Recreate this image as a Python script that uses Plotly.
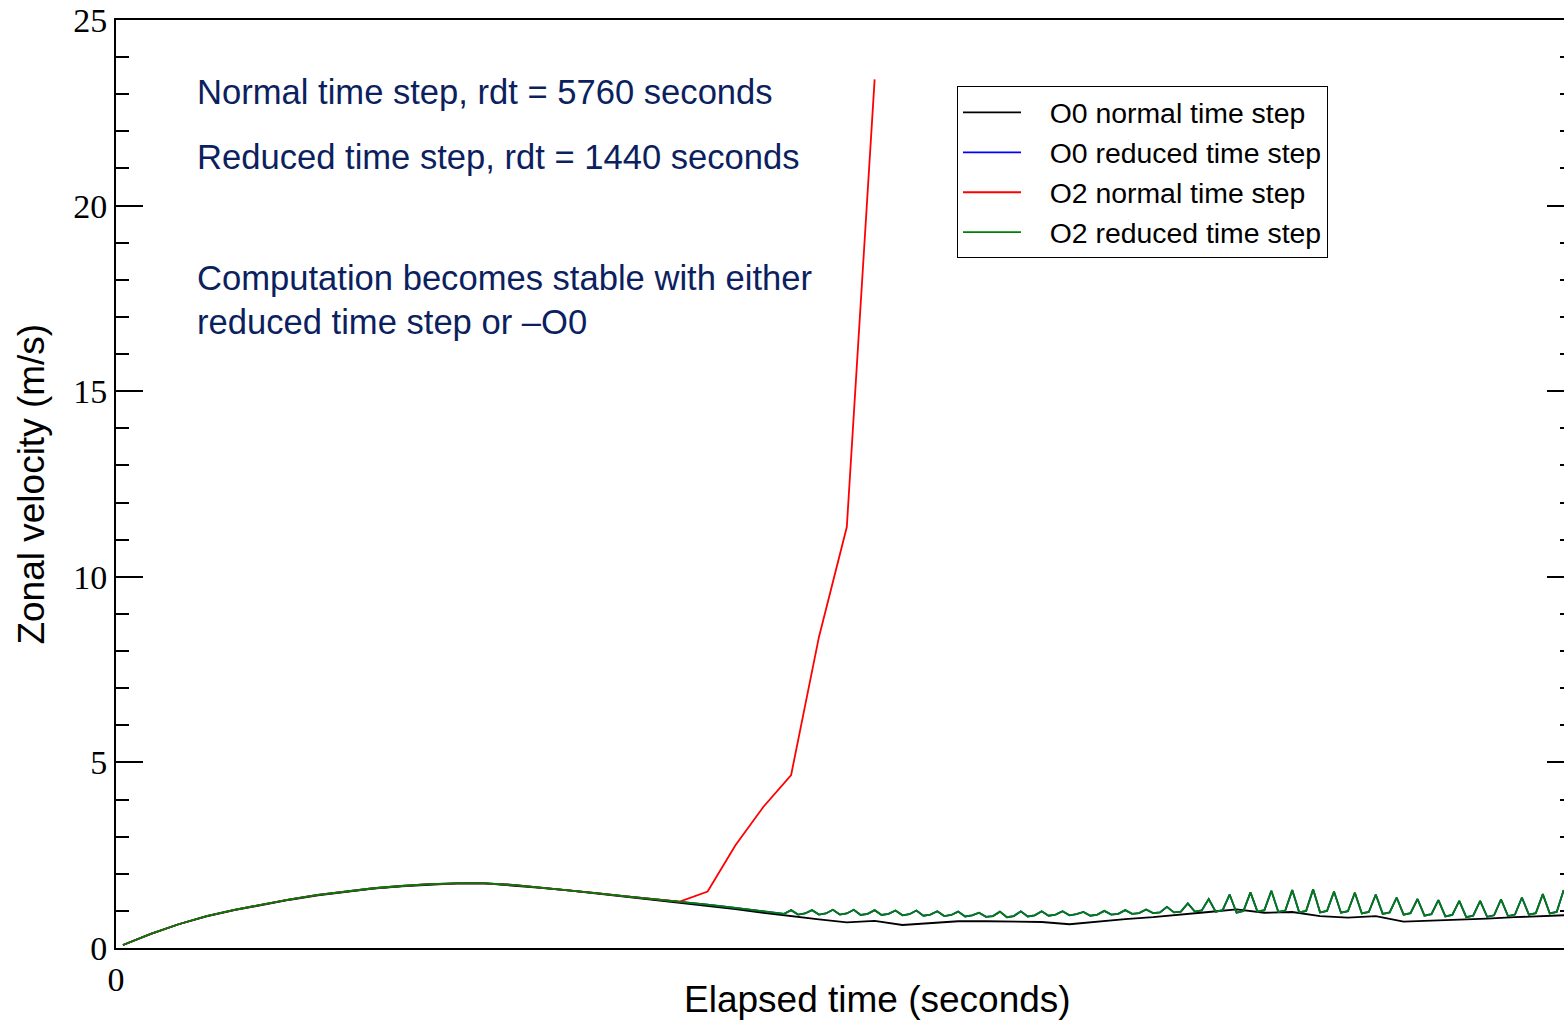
import plotly.graph_objects as go

# Time steps (seconds)
NORMAL_DT = 5760
REDUCED_DT = 1440

# Output step indices (counted in reduced time steps of 1440 s)
normal_steps = list(range(0, 209, 4))            # every 4th reduced step = one normal step
o2_normal_steps = list(range(0, 109, 4))
reduced_steps = list(range(0, 93, 4)) + list(range(93, 208))

# O0, normal time step
o0_normal = [0.08, 0.38, 0.64, 0.85, 1.02, 1.17, 1.30, 1.42, 1.52, 1.60,
             1.66, 1.71, 1.74, 1.74, 1.69, 1.62, 1.55, 1.47, 1.39, 1.31,
             1.22, 1.14, 1.05, 0.95, 0.85, 0.77, 0.69, 0.73, 0.62, 0.68,
             0.72, 0.72, 0.70, 0.70, 0.64, 0.72, 0.78, 0.83, 0.89, 0.97,
             1.04, 0.95, 0.97, 0.86, 0.82, 0.86, 0.71, 0.73, 0.76, 0.79,
             0.83, 0.86, 0.89]

# O2, normal time step (unstable)
o2_normal = [0.08, 0.38, 0.64, 0.86, 1.03, 1.18, 1.31, 1.43, 1.53, 1.61,
             1.67, 1.72, 1.74, 1.74, 1.70, 1.63, 1.56, 1.48, 1.40, 1.33,
             1.25, 1.52, 2.77, 3.80, 4.66, 8.38, 11.34, 23.40]

# O2, reduced time step
o2_reduced = [0.08, 0.38, 0.64, 0.86, 1.03, 1.18, 1.31, 1.43, 1.53, 1.61,
              1.67, 1.72, 1.74, 1.74, 1.70, 1.63, 1.56, 1.48, 1.40, 1.33,
              1.25, 1.17, 1.08, 0.99,
              0.97, 0.94, 0.92,
              1.02, 0.90, 0.93, 1.02, 0.90, 0.93, 1.03, 0.90, 0.93,
              1.03, 0.89, 0.92, 1.02, 0.89, 0.92, 1.01, 0.88, 0.91,
              1.01, 0.87, 0.90, 0.99, 0.86, 0.89, 0.98, 0.85, 0.88,
              0.95, 0.84, 0.86, 0.98, 0.83, 0.86, 0.99, 0.85, 0.88,
              0.99, 0.87, 0.90, 0.99, 0.88, 0.91, 0.97, 0.87, 0.90,
              1.00, 0.90, 0.92, 1.02, 0.92, 0.94, 1.04, 0.94, 0.96,
              1.11, 0.96, 0.98, 1.20, 0.98, 1.01, 1.32, 0.98, 1.02,
              1.44, 0.95, 1.00, 1.50, 0.98, 1.02, 1.54, 0.97, 1.01,
              1.56, 0.96, 1.00, 1.58, 0.96, 1.00, 1.52, 0.95, 0.99,
              1.49, 0.93, 0.97, 1.44, 0.92, 0.96, 1.36, 0.90, 0.94,
              1.32, 0.87, 0.91, 1.29, 0.85, 0.89, 1.27, 0.83, 0.87,
              1.27, 0.84, 0.88, 1.31, 0.86, 0.90, 1.36, 0.90, 0.94,
              1.45, 0.93, 0.97, 1.56]

# O0, reduced time step (lies on top of the O2 reduced run)
o0_reduced = list(o2_reduced)

series_names = ["O0 normal time step", "O0 reduced time step",
                "O2 normal time step", "O2 reduced time step"]
series_colors = ["#000000", "#0000ff", "#ff0000", "#008000"]

y_ticks = [0, 5, 10, 15, 20, 25]
x_ticks = [0]
x_max = 299586
y_max = 25

notes = ["Normal time step, rdt = 5760 seconds",
         "Reduced time step, rdt = 1440 seconds",
         "Computation becomes stable with either",
         "reduced time step or \u2013O0"]
note_levels = [23.05, 21.32, 18.04, 16.86]

# gap between the legend line sample and its label
LEGEND_PAD = "\u00a0" * 3


def to_seconds(steps):
    return [REDUCED_DT * (s + 1) for s in steps]


fig = go.Figure()
runs = [(normal_steps, o0_normal), (reduced_steps, o0_reduced),
        (o2_normal_steps, o2_normal), (reduced_steps, o2_reduced)]
for (steps, vals), name, color in zip(runs, series_names, series_colors):
    fig.add_trace(go.Scatter(x=to_seconds(steps), y=vals, mode="lines",
                             name=LEGEND_PAD + name,
                             line=dict(color=color, width=1.8)))

# empty trace that carries the right-hand tick axis
fig.add_trace(go.Scatter(x=[], y=[], yaxis="y2", showlegend=False,
                         hoverinfo="skip"))

serif = "Liberation Serif"
sans = "Liberation Sans"

fig.update_layout(
    width=1564, height=1022,
    margin=dict(l=116, r=0, t=20, b=74),
    paper_bgcolor="white", plot_bgcolor="white",
    showlegend=True,
    legend=dict(x=0.5808, y=0.9284, xanchor="left", yanchor="top",
                bgcolor="white", bordercolor="black", borderwidth=1,
                font=dict(family=sans, size=28.4, color="black"),
                itemwidth=58),
    xaxis=dict(range=[0, x_max], showline=True, linecolor="black",
               linewidth=2, mirror=True, ticks="", tickvals=x_ticks,
               ticktext=[str(v) for v in x_ticks],
               tickfont=dict(family=serif, size=34, color="black"),
               showgrid=False, zeroline=False),
    yaxis=dict(range=[0, y_max], tickvals=y_ticks, ticks="inside",
               ticklen=27, tickwidth=2, tickcolor="black",
               minor=dict(dtick=1, tick0=0, ticks="inside", ticklen=13,
                          tickwidth=1.5, tickcolor="black"),
               showline=True, linecolor="black", linewidth=2,
               tickfont=dict(family=serif, size=34, color="black"),
               showgrid=False, zeroline=False),
    yaxis2=dict(range=[0, y_max], overlaying="y", side="right",
                tickvals=y_ticks, ticks="inside", ticklen=17, tickwidth=2,
                tickcolor="black",
                minor=dict(dtick=1, tick0=0, ticks="inside", ticklen=4,
                           tickwidth=1.5, tickcolor="black"),
                showticklabels=False, showline=False, showgrid=False,
                zeroline=False),
)

fig.add_annotation(text="Zonal velocity (m/s)", xref="paper", yref="paper",
                   x=-0.059, y=0.5, xanchor="center", yanchor="middle",
                   textangle=-90, showarrow=False,
                   font=dict(family=sans, size=37, color="black"))
fig.add_annotation(text="Elapsed time (seconds)", xref="paper", yref="paper",
                   x=0.5259, y=-0.056, xanchor="center", yanchor="middle",
                   showarrow=False,
                   font=dict(family=sans, size=37, color="black"))
for txt, lvl in zip(notes, note_levels):
    fig.add_annotation(text=txt, xref="paper", yref="y", x=0.0545, y=lvl,
                       xanchor="left", yanchor="middle", showarrow=False,
                       font=dict(family=sans, size=34.6, color="#0c1f5f"))

fig.write_html("out.html")
